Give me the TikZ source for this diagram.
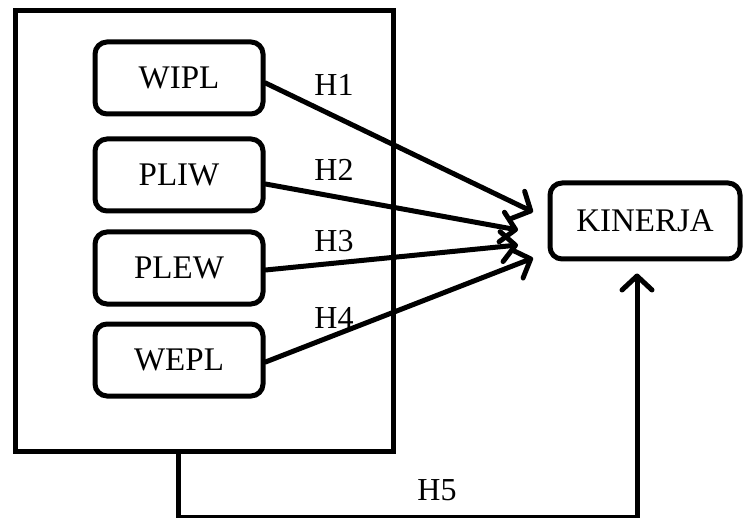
\documentclass[tikz,border=0pt]{standalone}
\usepackage{fontspec}
\setmainfont{Liberation Serif}
\usetikzlibrary{arrows.meta}
\begin{document}
\begin{tikzpicture}[x=1pt,y=-1pt,
  varbox/.style={draw,line width=5pt,rounded corners=12pt,minimum width=168pt,minimum height=72pt,inner sep=0pt,font=\fontsize{33}{33}\selectfont},
  outerbox/.style={draw,line width=5pt,minimum width=378pt,minimum height=440pt,inner sep=0pt},
  hlabel/.style={font=\fontsize{32}{32}\selectfont,inner sep=0pt},
  arr/.style={line width=5pt,line cap=round,line join=round,-{Straight Barb[length=14pt,width=30pt,line cap=round,line join=round]}}]
\useasboundingbox (0,0) rectangle (743,518);
\node[outerbox] (outer) at (204,231) {};
\node[varbox] (wipl) at (179,78) {WIPL};
\node[varbox] (pliw) at (179,175) {PLIW};
\node[varbox] (plew) at (179,268) {PLEW};
\node[varbox] (wepl) at (179,360) {WEPL};
\node[varbox,minimum width=190pt,minimum height=76pt] (kin) at (645,221) {KINERJA};
\coordinate (t1) at (533,212);
\coordinate (t2) at (518,230);
\coordinate (t3) at (518,245);
\coordinate (t4) at (533,258);
\draw[arr] ([yshift=-5pt]wipl.east) -- (t1);
\draw[arr] ([yshift=-9pt]pliw.east) -- (t2);
\draw[arr] ([yshift=-2pt]plew.east) -- (t3);
\draw[arr] ([yshift=-2pt]wepl.east) -- (t4);
\node[hlabel] (h1) at (334,85) {H1};
\node[hlabel] (h2) at (334,170) {H2};
\node[hlabel] (h3) at (334,241) {H3};
\node[hlabel] (h4) at (334,318) {H4};
\node[hlabel] (h5) at (437,490) {H5};
\draw[arr] ([xshift=-26pt]outer.south) -- ++(0,64) -| ([xshift=-8pt,yshift=-12pt]kin.south);
\end{tikzpicture}
\end{document}
